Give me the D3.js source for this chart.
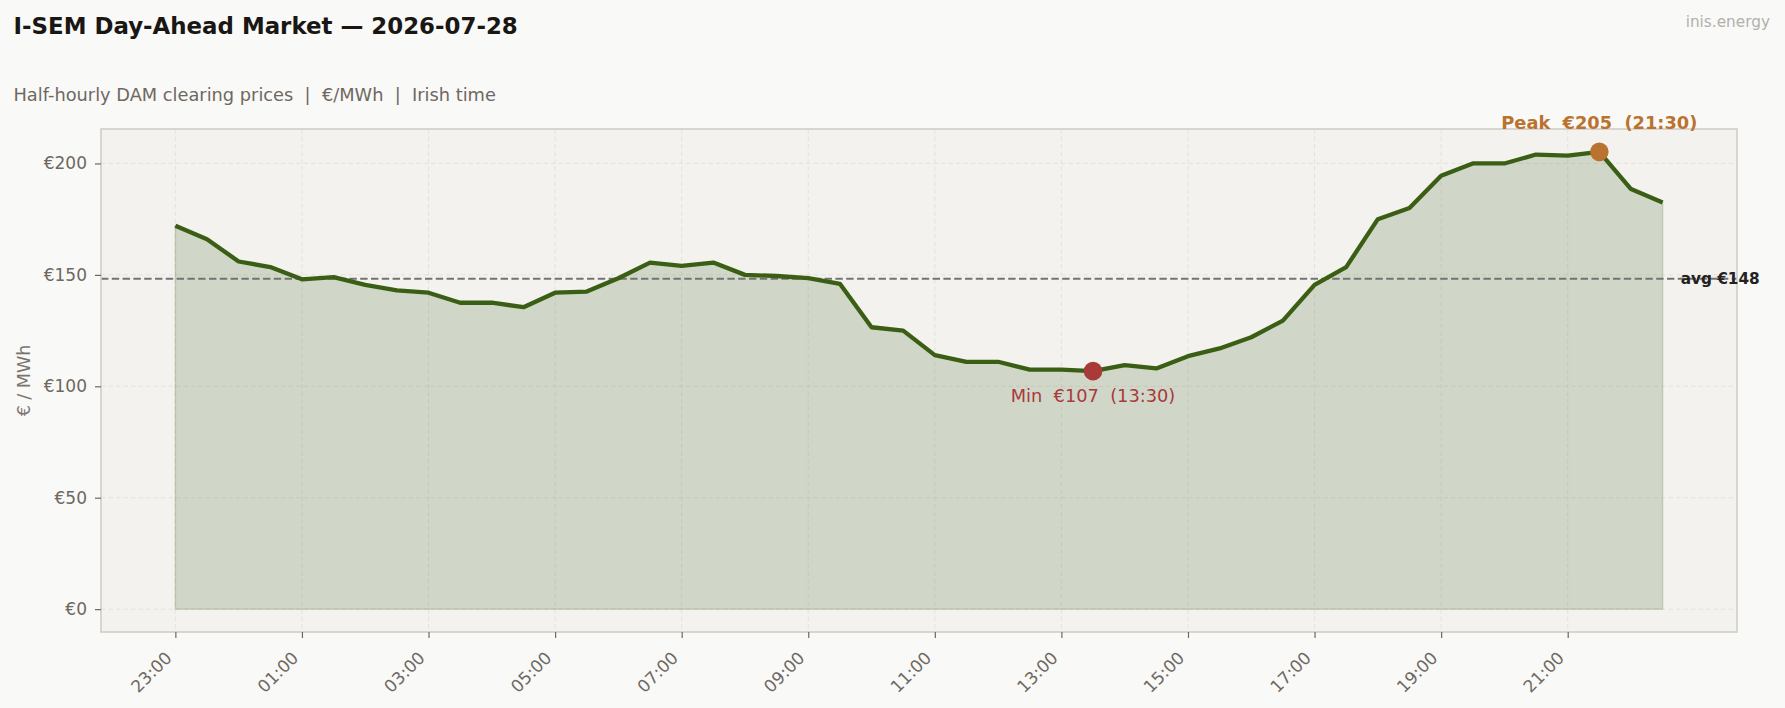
<!DOCTYPE html>
<html>
<head>
<meta charset="utf-8">
<script src="https://cdn.jsdelivr.net/npm/d3@7"></script>
<style>
  html, body { margin: 0; padding: 0; background: #f9f9f7; }
  svg { display: block; font-family: "DejaVu Sans", sans-serif; }
</style>
</head>
<body>
<svg id="chart" width="1785" height="708"></svg>
<script>
// ---- data ----
const times = ["23:00","23:30","00:00","00:30","01:00","01:30","02:00","02:30","03:00","03:30",
  "04:00","04:30","05:00","05:30","06:00","06:30","07:00","07:30","08:00","08:30",
  "09:00","09:30","10:00","10:30","11:00","11:30","12:00","12:30","13:00","13:30",
  "14:00","14:30","15:00","15:30","16:00","16:30","17:00","17:30","18:00","18:30",
  "19:00","19:30","20:00","20:30","21:00","21:30","22:00","22:30"];
const prices = [172, 166, 156, 153.5, 148, 149, 145.5, 143, 142, 137.5,
  137.5, 135.5, 142, 142.5, 148.5, 155.5, 154, 155.5, 150, 149.5,
  148.5, 146, 126.5, 125, 114, 111, 111, 107.5, 107.5, 106.8,
  109.5, 108, 113.5, 117, 122, 129.5, 145.5, 153.5, 175, 180,
  194.5, 200, 200, 204, 203.5, 205.2, 188.5, 182.5];
const xTickLabels = ["23:00","01:00","03:00","05:00","07:00","09:00","11:00","13:00","15:00","17:00","19:00","21:00"];
const yTicks = [0, 50, 100, 150, 200];

const titleText = "I-SEM Day-Ahead Market \u2014 2026-07-28";
const subtitleText = "Half-hourly DAM clearing prices  |  \u20AC/MWh  |  Irish time";
const sourceText = "inis.energy";
const yLabelText = "\u20AC / MWh";

// ---- layout ----
const W = 1785, H = 708;
const plot = { left: 101, right: 1737, top: 129, bottom: 632 };
const colors = {
  line: "#3a5e14", plotBg: "#f3f2ef", frame: "#d1cdc6", grid: "#e3e0da",
  tick: "#6e6862", peak: "#b9732f", min: "#a83a3a", avg: "#737373", title: "#1a1614"
};

const svg = d3.select("#chart");
svg.append("rect").attr("width", W).attr("height", H).attr("fill", "#f9f9f7");

const n = prices.length;
const pad = (n - 1) * 0.05;
const x = d3.scaleLinear().domain([-pad, n - 1 + pad]).range([plot.left, plot.right]);
const maxV = d3.max(prices);
const ypad = maxV * 0.05;
const y = d3.scaleLinear().domain([-ypad, maxV + ypad]).range([plot.bottom, plot.top]);

// plot background
svg.append("rect")
  .attr("x", plot.left).attr("y", plot.top)
  .attr("width", plot.right - plot.left).attr("height", plot.bottom - plot.top)
  .attr("fill", colors.plotBg);

const tickIdx = xTickLabels.map(t => times.indexOf(t));

// grid
const g = svg.append("g");
g.selectAll(".hg").data(yTicks).join("line")
  .attr("x1", plot.left).attr("x2", plot.right)
  .attr("y1", d => y(d)).attr("y2", d => y(d))
  .attr("stroke", colors.grid).attr("stroke-width", 0.9).attr("stroke-dasharray", "4.5,3");
g.selectAll(".vg").data(tickIdx).join("line")
  .attr("y1", plot.top).attr("y2", plot.bottom)
  .attr("x1", d => x(d)).attr("x2", d => x(d))
  .attr("stroke", colors.grid).attr("stroke-width", 0.9).attr("stroke-dasharray", "4.5,3");

// area
const area = d3.area().x((d, i) => x(i)).y0(y(0)).y1(d => y(d));
svg.append("path").datum(prices).attr("d", area)
  .attr("fill", colors.line).attr("fill-opacity", 0.18)
  .attr("stroke", colors.line).attr("stroke-opacity", 0.18).attr("stroke-width", 1.5);

// avg line
const avg = d3.mean(prices);
svg.append("line")
  .attr("x1", plot.left).attr("x2", plot.right)
  .attr("y1", y(avg)).attr("y2", y(avg))
  .attr("stroke", colors.avg).attr("stroke-width", 2).attr("stroke-dasharray", "7.4,3.4");

// price line
const line = d3.line().x((d, i) => x(i)).y(d => y(d));
svg.append("path").datum(prices).attr("d", line)
  .attr("fill", "none").attr("stroke", colors.line).attr("stroke-width", 4.3)
  .attr("stroke-linejoin", "round");

// frame
svg.append("rect")
  .attr("x", plot.left).attr("y", plot.top)
  .attr("width", plot.right - plot.left).attr("height", plot.bottom - plot.top)
  .attr("fill", "none").attr("stroke", colors.frame).attr("stroke-width", 1.6);

// y axis
const yAxis = d3.axisLeft(y).tickValues(yTicks).tickSize(6).tickPadding(8)
  .tickFormat(d => "\u20AC" + d);
const yg = svg.append("g").attr("transform", `translate(${plot.left},0)`).call(yAxis);
yg.select(".domain").remove();
yg.selectAll(".tick line").attr("stroke", colors.tick).attr("stroke-width", 1.2);
yg.selectAll(".tick text").attr("fill", colors.tick).attr("font-size", 17)
  .attr("font-family", "DejaVu Sans");

// x axis
const xAxis = d3.axisBottom(x).tickValues(tickIdx).tickSize(6)
  .tickFormat(d => times[d]);
const xg = svg.append("g").attr("transform", `translate(0,${plot.bottom})`).call(xAxis);
xg.select(".domain").remove();
xg.selectAll(".tick line").attr("stroke", colors.tick).attr("stroke-width", 1.2);
xg.selectAll(".tick text")
  .attr("fill", colors.tick).attr("font-size", 17).attr("font-family", "DejaVu Sans")
  .attr("text-anchor", "end").attr("dy", null).attr("y", null)
  .attr("transform", "translate(-3,27) rotate(-45)");

// y label
svg.append("text")
  .attr("transform", `translate(29.5,${(plot.top + plot.bottom) / 2}) rotate(-90)`)
  .attr("text-anchor", "middle").attr("fill", "#7a746e").attr("font-size", 17.5)
  .text(yLabelText);

// avg label
svg.append("text")
  .attr("x", x(n - 1) + 18).attr("y", y(avg)).attr("dy", "0.35em")
  .attr("font-size", 15.3).attr("font-weight", "bold").attr("fill", "#222")
  .text("avg \u20AC" + Math.round(avg));

// min / peak
const minV = d3.min(prices), minI = prices.indexOf(minV);
const peakI = prices.indexOf(maxV);
svg.append("circle").attr("cx", x(minI)).attr("cy", y(minV)).attr("r", 9.3).attr("fill", colors.min);
svg.append("circle").attr("cx", x(peakI)).attr("cy", y(maxV)).attr("r", 9.3).attr("fill", colors.peak);

svg.append("text")
  .attr("x", x(minI)).attr("y", y(minV) + 31).attr("text-anchor", "middle")
  .attr("font-size", 17.8).attr("fill", colors.min)
  .style("white-space", "pre")
  .text(`Min  \u20AC${Math.round(minV)}  (${times[minI]})`);
svg.append("text")
  .attr("x", x(peakI)).attr("y", y(maxV) - 23).attr("text-anchor", "middle")
  .attr("font-size", 17.8).attr("font-weight", "bold").attr("fill", colors.peak)
  .style("white-space", "pre")
  .text(`Peak  \u20AC${Math.round(maxV)}  (${times[peakI]})`);

// titles
svg.append("text").attr("x", 13.5).attr("y", 33.5)
  .attr("font-size", 22.9).attr("font-weight", "bold").attr("fill", colors.title)
  .text(titleText);
svg.append("text").attr("x", 13.5).attr("y", 101)
  .attr("font-size", 17.8).attr("fill", "#6e6862").style("white-space", "pre")
  .text(subtitleText);
svg.append("text").attr("x", 1770).attr("y", 26.5).attr("text-anchor", "end")
  .attr("font-size", 15.3).attr("fill", "#b3b0ab")
  .text(sourceText);
</script>
</body>
</html>
